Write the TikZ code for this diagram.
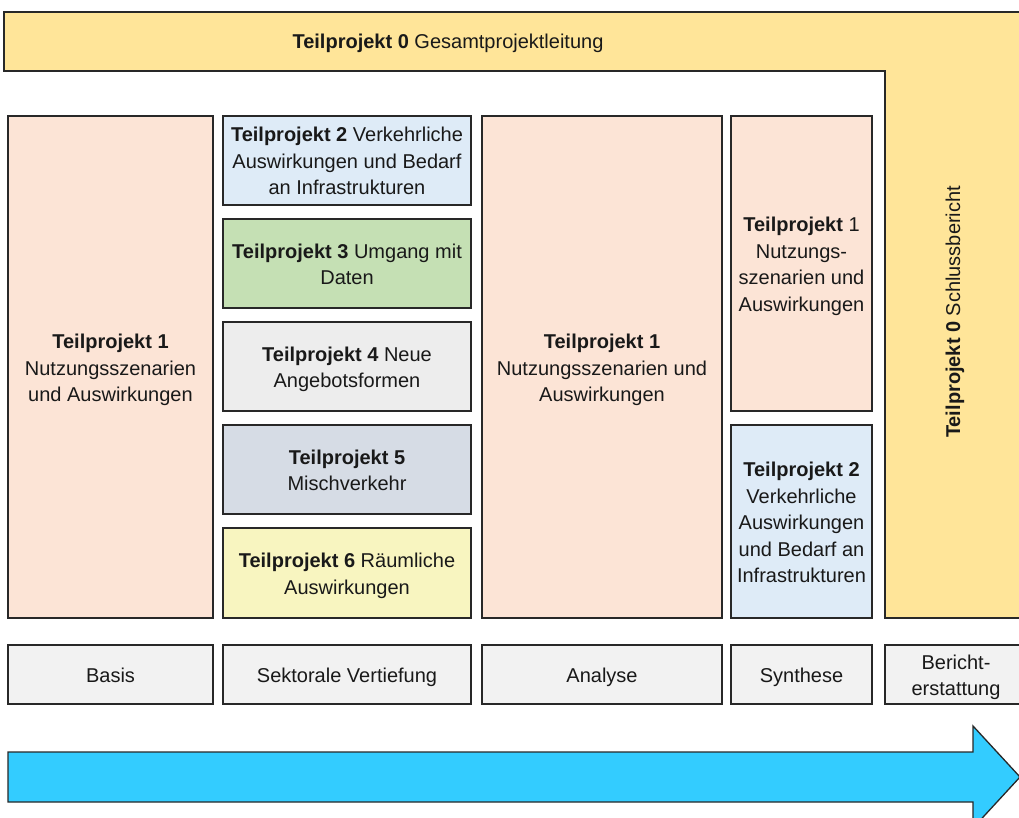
\documentclass[tikz,border=0pt]{standalone}
\usepackage{fontspec}
\setmainfont{Liberation Sans}
\definecolor{tpyellow}{RGB}{255,229,153}
\definecolor{tppeach}{RGB}{252,228,214}
\definecolor{tpblue}{RGB}{222,235,247}
\definecolor{tpgreen}{RGB}{197,224,180}
\definecolor{tpgray}{RGB}{237,237,237}
\definecolor{tpslate}{RGB}{214,220,229}
\definecolor{tplemon}{RGB}{248,245,192}
\definecolor{tplabel}{RGB}{242,242,242}
\definecolor{tparrow}{RGB}{51,204,255}
\definecolor{tpline}{RGB}{40,40,40}
\newcommand\tpA{\rule{0pt}{21.5pt}}
\newcommand\tpZ{\rule[-5.5pt]{0pt}{5.5pt}}
\tikzset{
  tptext/.style={align=center, font=\fontsize{20}{26.5}\selectfont, text=black!90},
  tpbox/.style={tptext, draw=tpline, line width=1.3pt, inner sep=2pt}
}
\begin{document}
\begin{tikzpicture}[x=1pt,y=-1pt]
\useasboundingbox (0,0) rectangle (1019,818);
% Top L-shape (Teilprojekt 0)
\fill[tpyellow] (4,12) -- (1030,12) -- (1030,618) -- (885,618) -- (885,71) -- (4,71) -- cycle;
\draw[tpline, line width=1.3pt] (1030,12) -- (4,12) -- (4,71) -- (885,71) -- (885,618) -- (1030,618);
\node[tptext] (tp0top) at (448,41) {\tpA\textbf{Teilprojekt 0} Gesamtprojektleitung\tpZ};
\node[tptext, rotate=90] (tp0side) at (955,312) {\textbf{Teilprojekt 0} Schlussbericht};
% Basis column
\node[tpbox, fill=tppeach, minimum width=205pt, minimum height=502pt] (basis1) at (110.5,367)
  {\tpA\textbf{Teilprojekt 1}\\Nutzungsszenarien\\und Auswirkungen\tpZ};
% Sektorale Vertiefung column
\node[tpbox, fill=tpblue, minimum width=248pt, minimum height=89pt] (sek2) at (347,160.5)
  {\tpA\textbf{Teilprojekt 2} Verkehrliche\\Auswirkungen und Bedarf\\an Infrastrukturen\tpZ};
\node[tpbox, fill=tpgreen, minimum width=248pt, minimum height=89pt] (sek3) at (347,263.5)
  {\tpA\textbf{Teilprojekt 3} Umgang mit\\Daten\tpZ};
\node[tpbox, fill=tpgray, minimum width=248pt, minimum height=89pt] (sek4) at (347,366.5)
  {\tpA\textbf{Teilprojekt 4} Neue\\Angebotsformen\tpZ};
\node[tpbox, fill=tpslate, minimum width=248pt, minimum height=89pt] (sek5) at (347,469.5)
  {\tpA\textbf{Teilprojekt 5}\\Mischverkehr\tpZ};
\node[tpbox, fill=tplemon, minimum width=248pt, minimum height=90pt] (sek6) at (347,573)
  {\tpA\textbf{Teilprojekt 6} Räumliche\\Auswirkungen\tpZ};
% Analyse column
\node[tpbox, fill=tppeach, minimum width=240pt, minimum height=502pt] (ana1) at (602,367)
  {\tpA\textbf{Teilprojekt 1}\\Nutzungsszenarien und\\Auswirkungen\tpZ};
% Synthese column
\node[tpbox, fill=tppeach, minimum width=141pt, minimum height=295pt] (syn1) at (801.5,263.5)
  {\tpA\textbf{Teilprojekt} 1\\Nutzungs-\\szenarien und\\Auswirkungen\tpZ};
\node[tpbox, fill=tpblue, minimum width=141pt, minimum height=193pt] (syn2) at (801.5,521.5)
  {\tpA\textbf{Teilprojekt 2}\\Verkehrliche\\Auswirkungen\\und Bedarf an\\Infrastrukturen\tpZ};
% Phase labels
\node[tpbox, fill=tplabel, minimum width=205pt, minimum height=59pt] (phbasis) at (110.5,674.5) {\tpA Basis\tpZ};
\node[tpbox, fill=tplabel, minimum width=248pt, minimum height=59pt] (phsek) at (347,674.5) {\tpA Sektorale Vertiefung\tpZ};
\node[tpbox, fill=tplabel, minimum width=240pt, minimum height=59pt] (phana) at (602,674.5) {\tpA Analyse\tpZ};
\node[tpbox, fill=tplabel, minimum width=141pt, minimum height=59pt] (phsyn) at (801.5,674.5) {\tpA Synthese\tpZ};
\node[tpbox, fill=tplabel, minimum width=142pt, minimum height=59pt, font=\fontsize{20}{26}\selectfont] (phber) at (956,674.5) {\tpA Bericht-\\erstattung\tpZ};
% Time arrow
\draw[tpline, line width=1.3pt, fill=tparrow] (8,752) -- (973,752) -- (973,726) -- (1020,777) -- (973,828) -- (973,802) -- (8,802) -- cycle;
\end{tikzpicture}
\end{document}
